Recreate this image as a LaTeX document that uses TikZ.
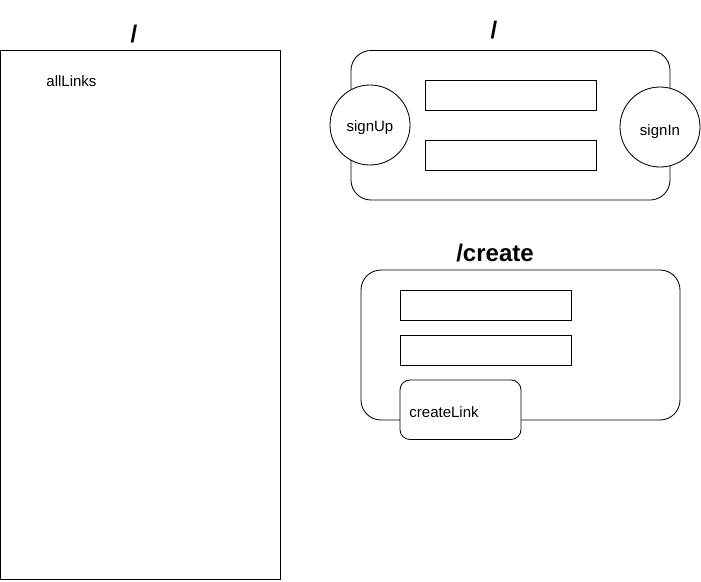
\documentclass[tikz,border=0pt]{standalone}
\usepackage{fontspec}
\setmainfont{Liberation Sans}
\begin{document}
\begin{tikzpicture}[x=1pt,y=-1pt,line width=0.85pt,
  lbl/.style={font=\fontsize{15}{18}\selectfont, inner sep=0pt},
  ttl/.style={font=\fontsize{24}{28}\selectfont\bfseries, inner sep=0pt},
  field/.style={draw, rectangle, inner sep=0pt},
  panel/.style={draw, rounded corners=20pt},
  btn/.style={draw, circle, fill=white, minimum size=80pt, inner sep=0pt},
  cbtn/.style={draw, fill=white, rounded corners=10pt}]
\useasboundingbox (0,0) rectangle (701,581);
% left page
\node[ttl] (t1) at (134,34) {/};
\draw (0.5,50.5) rectangle (280,579.5);
\node[lbl, anchor=west] (all) at (46,81.5) {allLinks};
% sign page
\node[ttl] (t2) at (494,30) {/};
\draw[panel] (351,50.5) rectangle (670,200);
\draw[field] (425,80) rectangle (596,110);
\draw[field] (425,140) rectangle (596,170);
\node[btn] (su) at (370,125) {};
\node[lbl] (sut) at (370,127.5) {signUp};
\node[btn] (si) at (660,127) {};
\node[lbl] (sit) at (660,131.5) {signIn};
% create page
\node[ttl] (t3) at (495,253) {/create};
\draw[panel] (361,270) rectangle (680,420);
\draw[field] (400,290) rectangle (571,320);
\draw[field] (400,335) rectangle (571,365);
\draw[cbtn] (400,380) rectangle (521,439.5);
\node[lbl, anchor=west] (cl) at (409,412) {createLink};
\end{tikzpicture}
\end{document}
